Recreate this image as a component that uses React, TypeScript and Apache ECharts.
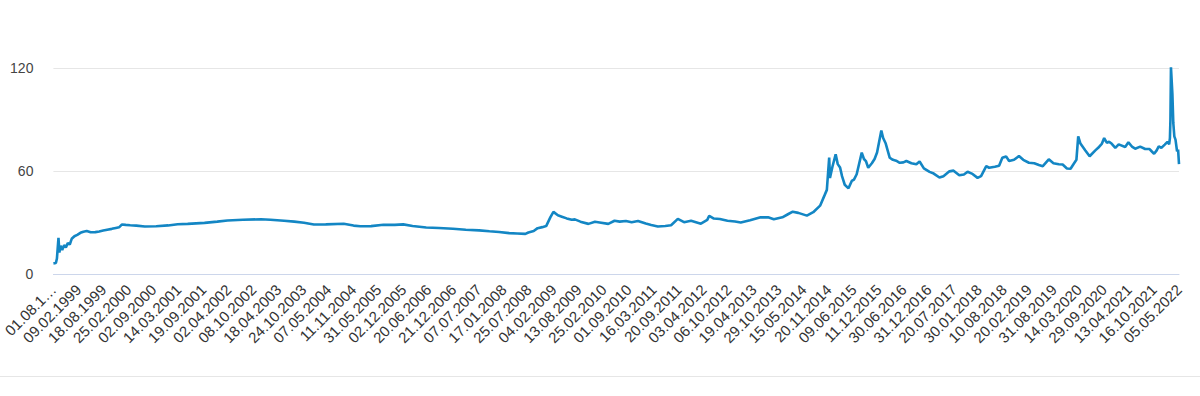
import React, { useEffect, useRef } from "react";
import * as echarts from "echarts";

// Axis tick labels (dd.mm.yyyy)
const tickLabels: string[] = [
  "01.08.1998", "09.02.1999", "18.08.1999", "25.02.2000", "02.09.2000", "14.03.2001",
  "19.09.2001", "02.04.2002", "08.10.2002", "18.04.2003", "24.10.2003", "07.05.2004",
  "11.11.2004", "31.05.2005", "02.12.2005", "20.06.2006", "21.12.2006", "07.07.2007",
  "17.01.2008", "25.07.2008", "04.02.2009", "13.08.2009", "25.02.2010", "01.09.2010",
  "16.03.2011", "20.09.2011", "03.04.2012", "06.10.2012", "19.04.2013", "29.10.2013",
  "15.05.2014", "20.11.2014", "09.06.2015", "11.12.2015", "30.06.2016", "31.12.2016",
  "20.07.2017", "30.01.2018", "10.08.2018", "20.02.2019", "31.08.2019", "14.03.2020",
  "29.09.2020", "13.04.2021", "16.10.2021", "05.05.2022",
];

// Series: dates (yyyy-mm-dd) and values
const dates: string[] = [
  "1998-08-01", "1998-08-20", "1998-08-28", "1998-09-09", "1998-09-16", "1998-09-25",
  "1998-10-08", "1998-10-22", "1998-11-05", "1998-11-20", "1998-12-05", "1998-12-20",
  "1999-01-10", "1999-02-01", "1999-02-25", "1999-03-20", "1999-04-15", "1999-05-15",
  "1999-06-20", "1999-07-20", "1999-08-20", "1999-09-20", "1999-10-25", "1999-11-25",
  "1999-12-20", "2000-01-10", "2000-02-10", "2000-03-15", "2000-05-01", "2000-07-06",
  "2000-10-01", "2001-01-01", "2001-03-16", "2001-06-01", "2001-10-09", "2002-01-15",
  "2002-04-04", "2002-08-01", "2002-12-17", "2003-03-01", "2003-06-14", "2003-09-01",
  "2003-11-15", "2004-01-30", "2004-05-01", "2004-09-16", "2004-12-01", "2005-01-22",
  "2005-04-15", "2005-07-19", "2005-10-15", "2005-12-19", "2006-03-01", "2006-06-14",
  "2006-09-20", "2007-01-06", "2007-04-15", "2007-07-27", "2007-10-15", "2007-12-28",
  "2008-03-15", "2008-05-15", "2008-07-18", "2008-08-10", "2008-09-20", "2008-10-20",
  "2008-11-25", "2008-12-25", "2009-01-26", "2009-02-19", "2009-03-25", "2009-04-25",
  "2009-06-01", "2009-07-10", "2009-08-03", "2009-09-15", "2009-11-16", "2010-01-05",
  "2010-02-10", "2010-04-18", "2010-06-05", "2010-07-15", "2010-09-01", "2010-10-15",
  "2010-12-03", "2011-02-01", "2011-03-15", "2011-05-05", "2011-07-01", "2011-08-15",
  "2011-10-06", "2011-11-23", "2012-01-16", "2012-04-01", "2012-05-20", "2012-06-04",
  "2012-07-10", "2012-08-25", "2012-10-23", "2012-12-20", "2013-02-02", "2013-04-15",
  "2013-07-05", "2013-09-01", "2013-10-15", "2013-12-20", "2014-02-01", "2014-03-10",
  "2014-04-22", "2014-06-27", "2014-08-15", "2014-10-07", "2014-11-10", "2014-11-28",
  "2014-12-16", "2014-12-22", "2015-01-10", "2015-02-04", "2015-02-20", "2015-03-10",
  "2015-03-25", "2015-04-15", "2015-05-14", "2015-06-08", "2015-06-25", "2015-07-16",
  "2015-08-24", "2015-09-10", "2015-09-25", "2015-10-13", "2015-11-10", "2015-12-01",
  "2015-12-20", "2016-01-22", "2016-02-05", "2016-02-25", "2016-03-27", "2016-04-20",
  "2016-05-15", "2016-06-12", "2016-07-10", "2016-08-02", "2016-09-10", "2016-10-18",
  "2016-11-12", "2016-12-15", "2017-01-28", "2017-03-01", "2017-04-14", "2017-05-15",
  "2017-06-30", "2017-08-01", "2017-09-14", "2017-10-20", "2017-11-17", "2017-12-20",
  "2018-02-02", "2018-03-01", "2018-04-10", "2018-05-02", "2018-06-15", "2018-07-18",
  "2018-08-12", "2018-09-10", "2018-10-03", "2018-11-10", "2018-12-18", "2019-01-20",
  "2019-03-05", "2019-04-15", "2019-05-21", "2019-06-20", "2019-08-05", "2019-09-10",
  "2019-10-21", "2019-11-20", "2019-12-23", "2020-01-20", "2020-02-10", "2020-03-05",
  "2020-03-19", "2020-04-05", "2020-05-13", "2020-06-15", "2020-07-29", "2020-08-20",
  "2020-09-18", "2020-10-05", "2020-10-25", "2020-11-12", "2020-12-01", "2020-12-30",
  "2021-01-25", "2021-03-16", "2021-04-10", "2021-05-10", "2021-06-01", "2021-07-10",
  "2021-08-17", "2021-09-20", "2021-10-06", "2021-10-25", "2021-11-14", "2021-11-30",
  "2021-12-20", "2022-01-15", "2022-02-05", "2022-02-18", "2022-02-24", "2022-02-28",
  "2022-03-04", "2022-03-15", "2022-03-22", "2022-03-30", "2022-04-08", "2022-04-20",
  "2022-04-28", "2022-05-05",
];

const values: number[] = [
  6.2, 6.4, 9.0, 21.0, 12.5, 16.5,
  14.0, 16.8, 15.5, 18.0, 17.2, 20.5,
  22.0, 22.8, 24.0, 24.6, 25.0, 24.3,
  24.4, 24.8, 25.3, 25.8, 26.3, 26.8,
  27.2, 28.8, 28.6, 28.4, 28.2, 27.7,
  27.8, 28.3, 29.0, 29.2, 29.8, 30.5,
  31.2, 31.6, 31.9, 31.6, 31.0, 30.5,
  29.9, 28.8, 28.9, 29.3, 28.2, 27.8,
  27.9, 28.7, 28.6, 28.9, 28.0, 27.1,
  26.8, 26.4, 25.8, 25.4, 24.9, 24.5,
  23.8, 23.6, 23.4, 24.2, 25.0, 26.7,
  27.3, 27.9, 33.0, 36.2, 34.2, 33.4,
  32.4, 31.6, 31.8, 30.5, 29.2, 30.4,
  30.0, 29.2, 31.0, 30.5, 30.9, 30.2,
  30.9, 29.4, 28.6, 27.7, 28.0, 28.4,
  32.1, 30.2, 31.0, 29.3, 31.5, 33.9,
  32.3, 32.0, 31.0, 30.6, 30.0, 31.3,
  33.0, 33.0, 31.9, 33.0, 34.8, 36.3,
  35.6, 34.0, 36.0, 39.8, 45.8, 49.0,
  67.8, 56.0, 62.5, 69.7, 64.0, 62.0,
  57.0, 52.0, 49.9, 54.2, 55.0, 58.1,
  70.7, 67.0, 65.8, 61.9, 64.5, 67.0,
  70.8, 83.6, 79.2, 76.0, 67.7, 66.5,
  66.0, 64.8, 65.0, 65.8, 64.5, 63.9,
  65.5, 61.5, 59.5, 58.5, 56.2, 57.0,
  59.8, 60.2, 57.5, 58.0, 59.6, 58.5,
  56.0, 57.0, 62.8, 61.9, 62.5, 63.0,
  67.7, 68.5, 65.8, 66.5, 68.7, 66.5,
  64.8, 64.5, 63.5, 62.8, 66.8, 64.5,
  63.9, 63.8, 61.5, 61.3, 63.8, 66.5,
  80.2, 76.0, 72.0, 68.6, 72.0, 73.5,
  76.0, 79.2, 76.5, 77.0, 76.0, 73.5,
  75.5, 74.0, 76.7, 74.0, 73.0, 74.2,
  72.8, 72.8, 71.5, 70.0, 72.0, 74.4,
  73.5, 75.4, 77.0, 75.6, 79.2, 90.0,
  120.4, 105.0, 88.0, 80.2, 78.3, 71.5,
  72.5, 64.0,
];

const yTicks: number[] = [0, 60, 120];

function parseDMY(s: string): number {
  const [d, m, y] = s.split(".").map(Number);
  return new Date(y, m - 1, d).getTime();
}
function parseYMD(s: string): number {
  const [y, m, d] = s.split("-").map(Number);
  return new Date(y, m - 1, d).getTime();
}

const FONT = "'Liberation Sans', Arial, sans-serif";

export default function App() {
  const ref = useRef<HTMLDivElement>(null);

  useEffect(() => {
    if (!ref.current) return;
    const chart = echarts.init(ref.current, undefined, { renderer: "svg" });
    const minT = parseDMY(tickLabels[0]);
    const maxT = parseDMY(tickLabels[tickLabels.length - 1]);
    const seriesData = dates.map((d, i) => [parseYMD(d), values[i]]);

    chart.setOption({
      animation: false,
      backgroundColor: "#ffffff",
      textStyle: { fontFamily: FONT },
      grid: { left: 48, right: 21, top: 68, bottom: 122 },
      xAxis: [
        {
          type: "time",
          min: minT,
          max: maxT,
          axisLine: { show: true, lineStyle: { color: "#ccd6eb", width: 1 } },
          axisTick: { show: false },
          splitLine: { show: false },
          axisLabel: { show: false },
        },
        {
          type: "category",
          position: "bottom",
          data: tickLabels,
          boundaryGap: false,
          axisLine: { show: false },
          axisTick: { show: false },
          splitLine: { show: false },
          axisLabel: {
            interval: 0,
            rotate: 45,
            margin: 13,
            fontSize: 15,
            color: "#333333",
            fontFamily: FONT,
            formatter: (v: string, i: number) =>
              i === 0 ? v.slice(0, 7) + "\u2026" : v,
          },
        },
      ],
      yAxis: {
        type: "value",
        min: yTicks[0],
        max: yTicks[yTicks.length - 1],
        interval: 60,
        axisLine: { show: false },
        axisTick: { show: false },
        splitLine: { show: true, lineStyle: { color: "#e6e6e6", width: 1 } },
        axisLabel: {
          margin: 20,
          fontSize: 14,
          color: "#444444",
          fontFamily: FONT,
        },
      },
      series: [
        {
          type: "line",
          xAxisIndex: 0,
          data: seriesData,
          showSymbol: false,
          symbol: "none",
          lineStyle: { color: "#1386c4", width: 2.6 },
          itemStyle: { color: "#1386c4" },
        },
      ],
      graphic: [
        {
          type: "line",
          shape: { x1: 0, y1: 376.5, x2: 1200, y2: 376.5 },
          style: { stroke: "#e6e6e6", lineWidth: 1 },
          silent: true,
        },
      ],
    });
    return () => chart.dispose();
  }, []);

  return (
    <div
      ref={ref}
      style={{ position: "absolute", left: 0, top: 0, width: 1200, height: 396 }}
    />
  );
}
